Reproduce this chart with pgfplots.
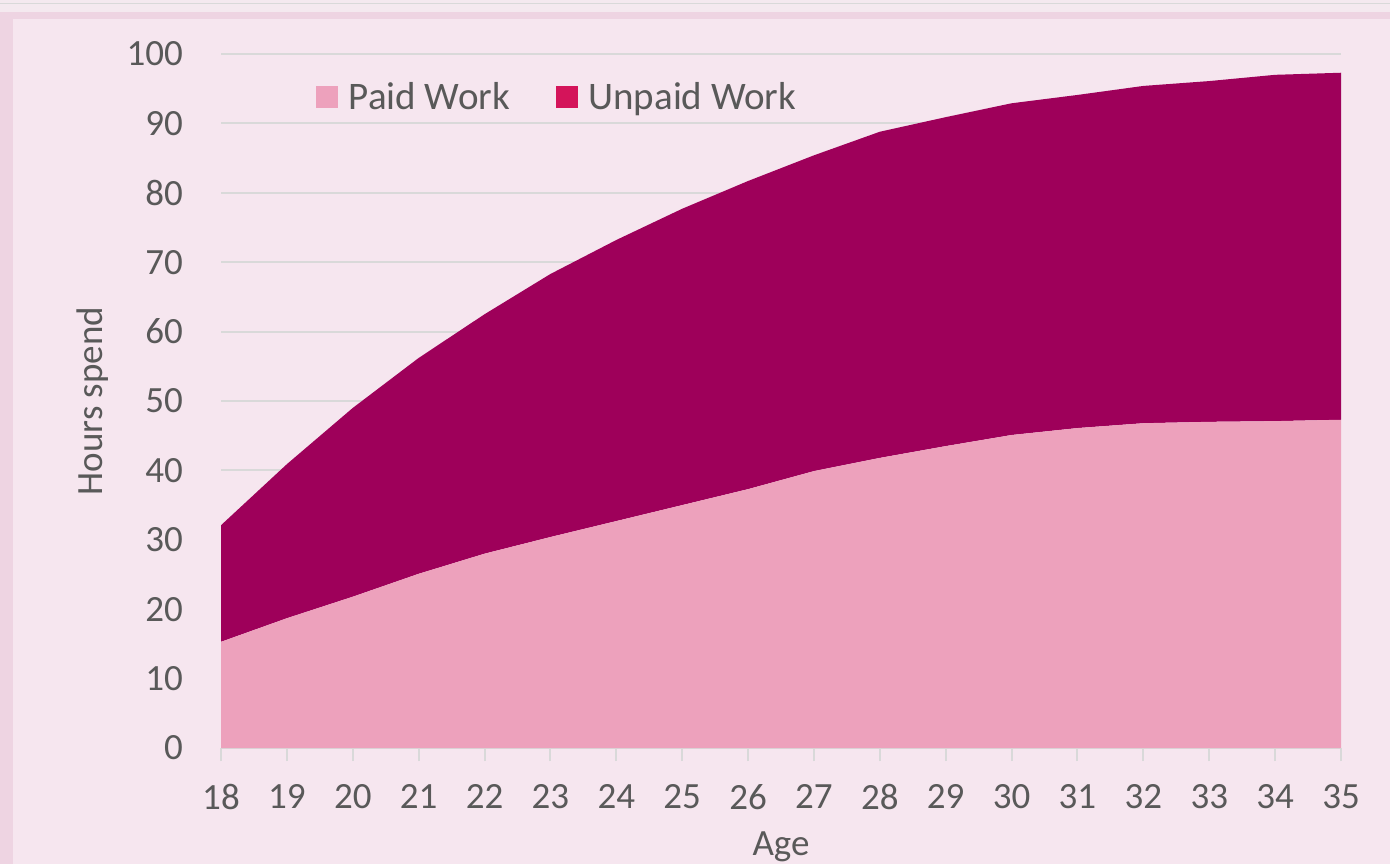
\documentclass[border=0pt]{standalone}
\usepackage{pgfplots}
\pgfplotsset{compat=1.18}
\usepackage{fontspec}
\setmainfont{Carlito}
\definecolor{outerbg}{HTML}{EED4E2}
\definecolor{innerbg}{HTML}{F6E6EF}
\definecolor{topstrip}{HTML}{F4E9EF}
\definecolor{gridc}{HTML}{D9D9D9}
\definecolor{paid}{HTML}{EDA1BC}
\definecolor{unpaid}{HTML}{9E005A}
\definecolor{unpaidleg}{HTML}{D4145A}
\definecolor{txt}{HTML}{595959}
\begin{document}
\begin{tikzpicture}
\path[use as bounding box] (0,0) rectangle (695pt,432pt);
\fill[outerbg] (0,0) rectangle (695pt,432pt);
\fill[topstrip] (0,426pt) rectangle (695pt,432pt);
\draw[gridc, line width=0.8pt] (0,430.3pt) -- (695pt,430.3pt);
\fill[innerbg] (6.5pt,0) rectangle (695pt,422.5pt);
\begin{axis}[
  at={(110.5pt,58pt)}, anchor=south west,
  scale only axis, width=560pt, height=347pt,
  xmin=18, xmax=35, ymin=0, ymax=100,
  xtick={18,...,35}, ytick={0,10,...,100},
  stack plots=y,
  axis x line*=bottom, axis y line*=left,
  x axis line style={draw=gridc, line width=1pt, -},
  y axis line style={draw=none},
  ytick style={draw=none},
  xtick style={draw=gridc, line width=1pt},
  tick align=outside, major tick length=6.5pt,
  ymajorgrids, grid style={gridc, line width=1pt},
  tick label style={font=\fontsize{18.5}{20}\selectfont, text=txt},
  /pgf/number format/assume math mode=true,
  yticklabel style={xshift=-9pt},
  xticklabel style={yshift=-8pt},
  label style={font=\fontsize{18.5}{20}\selectfont, text=txt},
  xlabel={Age}, ylabel={Hours spend},
  xlabel style={at={(axis description cs:0.5,-0.142)}, anchor=center},
  ylabel style={at={(axis description cs:-0.1143,0.5)}, anchor=center},
  legend columns=2,
  legend style={at={(0.0848,0.938)}, anchor=west, draw=none, fill=none,
    inner sep=0pt,
    font=\fontsize{19.5}{21}\selectfont, text=txt,
    /tikz/every even column/.append style={column sep=21pt}},
  legend image code/.code={\fill[#1, draw=none] (0pt,-5.5pt) rectangle (11pt,5.5pt); \path (14pt,0);},
]
\addplot[fill=paid, draw=none, forget plot] coordinates {
(18,15.3) (19,18.7) (20,21.8) (21,25.1) (22,28.0) (23,30.4) (24,32.7) (25,35.0) (26,37.3)
(27,39.9) (28,41.8) (29,43.5) (30,45.1) (31,46.1) (32,46.8) (33,47.0) (34,47.1) (35,47.3)
} \closedcycle;
\addplot[fill=unpaid, draw=none, forget plot] coordinates {
(18,16.8) (19,22.2) (20,27.2) (21,31.1) (22,34.5) (23,37.9) (24,40.5) (25,42.7) (26,44.4)
(27,45.5) (28,47.0) (29,47.4) (30,47.8) (31,48.0) (32,48.6) (33,49.1) (34,49.9) (35,50.0)
} \closedcycle;
\addlegendimage{fill=paid}
\addlegendentry{Paid Work}
\addlegendimage{fill=unpaidleg}
\addlegendentry{Unpaid Work}
\end{axis}
\end{tikzpicture}
\end{document}
